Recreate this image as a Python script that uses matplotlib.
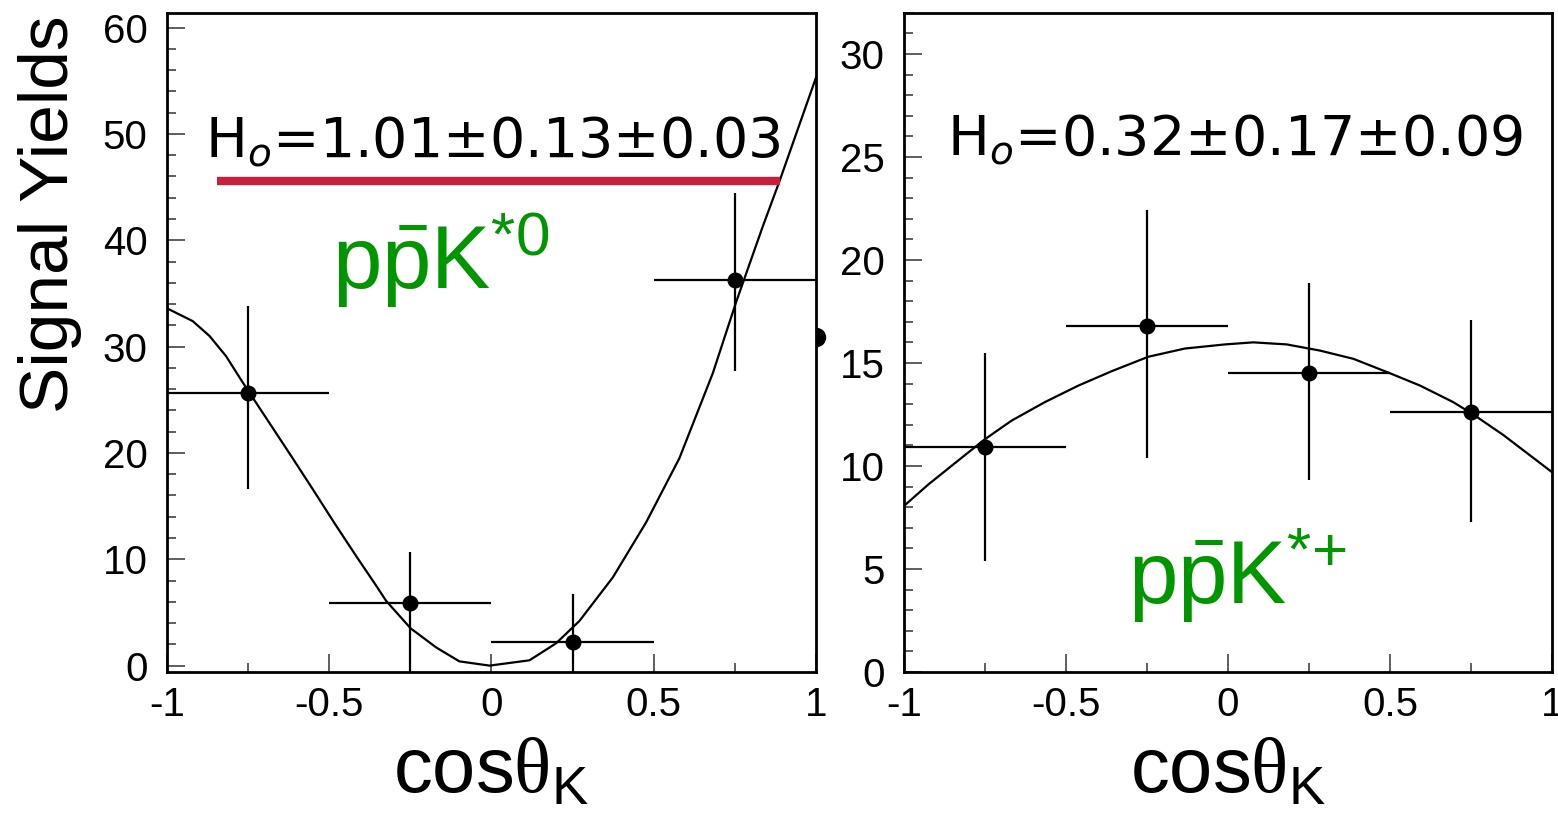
import matplotlib
matplotlib.use("Agg")
import matplotlib.pyplot as plt
from matplotlib.ticker import MultipleLocator, FixedLocator

plt.rcParams['font.family'] = 'Liberation Sans'
plt.rcParams['mathtext.fontset'] = 'custom'
plt.rcParams['mathtext.rm'] = 'Liberation Serif'
plt.rcParams['mathtext.sf'] = 'Liberation Sans'
plt.rcParams['mathtext.it'] = 'Liberation Sans:italic'

# cos(theta_K) bins
bin_x = [-0.75, -0.25, 0.25, 0.75]
bin_hw = [0.25, 0.25, 0.25, 0.25]

# p pbar K*0 signal yields
k0_y = [25.6, 5.9, 2.2, 36.3]
k0_err_lo = [9.0, 6.5, 2.8, 8.6]
k0_err_hi = [8.2, 4.8, 4.5, 8.1]

# p pbar K*+ signal yields
kp_y = [10.9, 16.8, 14.5, 12.6]
kp_err_lo = [5.5, 6.4, 5.2, 5.3]
kp_err_hi = [4.6, 5.6, 4.4, 4.5]

# fitted angular distributions
k0_fit_x = [-1.0, -0.921, -0.869, -0.818, -0.766, -0.684, -0.617, -0.551, -0.484,
            -0.417, -0.355, -0.325, -0.249, -0.170, -0.099, -0.006, 0.117, 0.199,
            0.271, 0.374, 0.477, 0.579, 0.682, 0.754, 0.836, 0.888, 1.0]
k0_fit_y = [33.6, 32.4, 31.0, 29.1, 26.6, 22.8, 19.7, 16.6, 13.4,
            10.3, 7.5, 6.1, 3.5, 1.7, 0.4, 0.0, 0.5, 2.1,
            4.2, 8.3, 13.5, 19.5, 27.5, 34.2, 41.3, 45.6, 55.3]

kp_fit_x = [-1.0, -0.925, -0.822, -0.75, -0.668, -0.565, -0.462, -0.359, -0.246, -0.133,
            -0.009, 0.078, 0.181, 0.284, 0.387, 0.5, 0.593, 0.695, 0.757, 0.85, 1.0]
kp_fit_y = [8.06, 9.1, 10.4, 11.3, 12.2, 13.1, 13.9, 14.6, 15.3, 15.7,
            15.9, 16.0, 15.9, 15.6, 15.2, 14.5, 13.9, 13.1, 12.5, 11.5, 9.7]

# H0 results and the red band under the K*0 result
k0_text = r'H$_o$=1.01±0.13±0.03'
kp_text = r'H$_o$=0.32±0.17±0.09'
k0_band_x = [-0.846, 0.889]
k0_band_y = [45.6, 45.6]

x_ticks = [-1, -0.5, 0, 0.5, 1]
x_ticklabels = ['-1', '-0.5', '0', '0.5', '1']

green = '#009600'

fig = plt.figure(figsize=(15.58, 8.15), dpi=100)
W, H = 1558, 815
ax1 = fig.add_axes([167 / W, 1 - 672 / H, 649 / W, 659.3 / H])
ax2 = fig.add_axes([904 / W, 1 - 672 / H, 648 / W, 659.3 / H])


def style(ax, ymajor, yminor):
    ax.set_xlim(-1, 1)
    ax.xaxis.set_major_locator(FixedLocator(x_ticks))
    ax.set_xticklabels(x_ticklabels)
    ax.xaxis.set_minor_locator(MultipleLocator(0.25))
    ax.yaxis.set_major_locator(MultipleLocator(ymajor))
    ax.yaxis.set_minor_locator(MultipleLocator(yminor))
    ax.tick_params(which='both', direction='in', width=1.1, color='#333333',
                   top=False, right=False, labelsize=29)
    ax.tick_params(which='major', length=13)
    ax.tick_params(which='minor', length=6.5)
    ax.tick_params(axis='y', pad=14)
    ax.tick_params(axis='x', pad=10)
    for s in ax.spines.values():
        s.set_linewidth(2.0)
    ax.text(0.5, -0.1835, r'cos$\mathrm{\theta}_{\mathsf{K}}$', transform=ax.transAxes,
            ha='center', va='baseline', fontsize=56)


# left: p pbar K*0
style(ax1, 10, 2)
ax1.set_ylim(-0.6, 61.4)
ax1.plot(k0_fit_x, k0_fit_y, color='k', lw=1.6)
ax1.errorbar(bin_x, k0_y, xerr=bin_hw, yerr=[k0_err_lo, k0_err_hi], fmt='o',
             color='k', ms=10.5, elinewidth=1.6, capsize=0)
ax1.plot(k0_band_x, k0_band_y, color='#C8203C', lw=6, solid_capstyle='butt')
ax1.text(-0.884, 47.9, k0_text, fontsize=40, family='DejaVu Sans',
         math_fontfamily='dejavusans', va='baseline')
ax1.text(-0.49, 35.4, r'p$\bar{\mathsf{p}}$K$^{\mathsf{*0}}$', fontsize=64,
         color=green, va='baseline')
# stray marker cut by the frame edge
ax1.plot([1.0], [30.9], marker='o', ms=14, fillstyle='right', color='k',
         markeredgewidth=0, clip_on=False)

# right: p pbar K*+
style(ax2, 5, 1)
ax2.set_ylim(0, 32)
ax2.plot(kp_fit_x, kp_fit_y, color='k', lw=1.6)
ax2.errorbar(bin_x, kp_y, xerr=bin_hw, yerr=[kp_err_lo, kp_err_hi], fmt='o',
             color='k', ms=10.5, elinewidth=1.6, capsize=0)
ax2.text(-0.868, 25.1, kp_text, fontsize=40, family='DejaVu Sans',
         math_fontfamily='dejavusans', va='baseline')
ax2.text(-0.309, 3.3, r'p$\bar{\mathsf{p}}$K$^{\mathsf{*}{\mathsf{+}}}$', fontsize=64,
         color=green, va='baseline')

fig.text(50 / W, 1 - 214 / H, 'Signal Yields', rotation=90, fontsize=50,
         ha='center', va='center')

fig.savefig('out.png', dpi=100)
